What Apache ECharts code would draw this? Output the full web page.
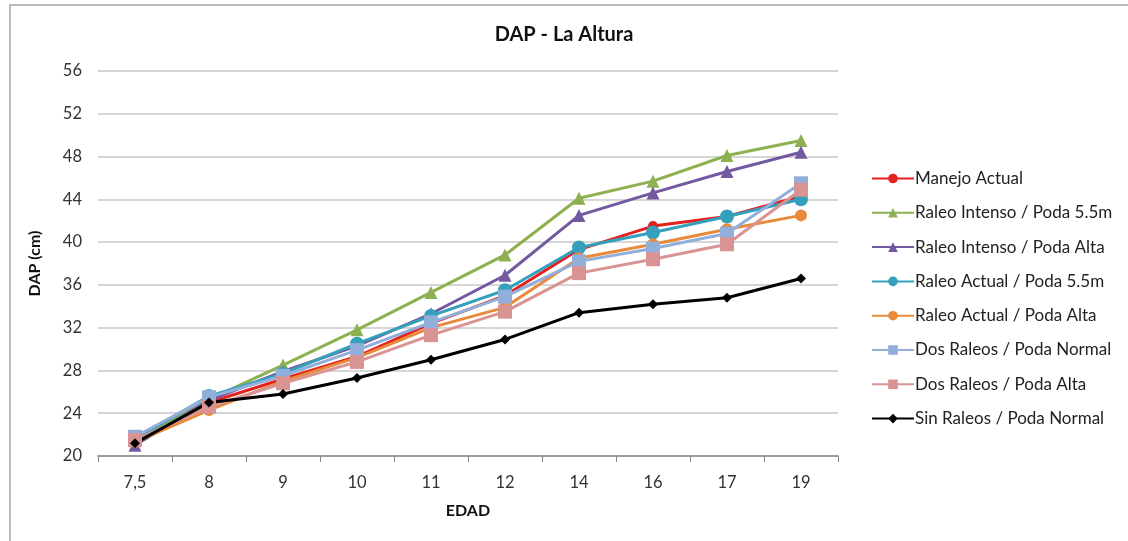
<!DOCTYPE html>
<html><head><meta charset="utf-8">
<script src="https://cdn.jsdelivr.net/npm/echarts@6/dist/echarts.min.js"></script>
<style>html,body{margin:0;padding:0;background:#fff}#c{width:1128px;height:541px}</style>
</head><body><div id="c"></div>
<script>
const categories = ['7,5','8','9','10','11','12','14','16','17','19'];
const manejoActual = [21.2,25.0,27.2,29.3,32.4,35.0,39.3,41.5,42.4,44.3];
const raleoIntenso55 = [21.5,25.3,28.5,31.8,35.3,38.8,44.1,45.7,48.1,49.5];
const raleoIntensoAlta = [21.0,25.2,27.9,30.3,33.3,36.9,42.5,44.6,46.6,48.4];
const raleoActual55 = [21.6,25.6,27.7,30.5,33.1,35.5,39.5,40.9,42.4,44.0];
const raleoActualAlta = [21.3,24.3,27.0,29.2,32.0,33.9,38.5,39.8,41.2,42.5];
const dosRaleosNormal = [21.8,25.5,27.5,29.9,32.5,34.9,38.2,39.4,40.8,45.5];
const dosRaleosAlta = [21.5,24.6,26.8,28.8,31.3,33.5,37.1,38.4,39.8,44.9];
const sinRaleosNormal = [21.2,25.0,25.8,27.3,29.0,30.9,33.4,34.2,34.8,36.6];
const yTicks = {min:20, max:56, interval:4};

const FONT = 'Lato, "Open Sans", sans-serif';
function s(name, data, color, symbol, size){
  return {name, type:'line', data, symbol, symbolSize:size,
    itemStyle:{color}, lineStyle:{color, width:3}, emphasis:{disabled:true}};
}
const series = [
  s('Manejo Actual', manejoActual, '#E3211F', 'circle', 10),
  s('Raleo Intenso / Poda 5.5m', raleoIntenso55, '#8DB050', 'triangle', 13),
  s('Raleo Intenso / Poda Alta', raleoIntensoAlta, '#7359A0', 'triangle', 13),
  s('Raleo Actual / Poda 5.5m', raleoActual55, '#35A0BC', 'circle', 14),
  s('Raleo Actual / Poda Alta', raleoActualAlta, '#E88A3A', 'circle', 12),
  s('Dos Raleos / Poda Normal', dosRaleosNormal, '#92AEDB', 'rect', 14),
  s('Dos Raleos / Poda Alta', dosRaleosAlta, '#DA9393', 'rect', 14),
  s('Sin Raleos / Poda Normal', sinRaleosNormal, '#000000', 'diamond', 10)
];
const chart = echarts.init(document.getElementById('c'));
chart.setOption({
  animation:false,
  backgroundColor:'#fff',
  graphic:[{type:'rect', shape:{x:10,y:5,width:1130,height:545}, style:{fill:'none', stroke:'#A6A6A6', lineWidth:1.5}, silent:true}],
  title:{text:'DAP - La Altura', left:'center', top:20, textStyle:{fontFamily:FONT, fontSize:20, fontWeight:'bold', color:'#111'}},
  legend:{orient:'vertical', left:866, top:165, itemWidth:42, itemHeight:12, itemGap:17.3,
    textStyle:{fontFamily:FONT, fontSize:17, color:'#222', padding:[0,0,0,-4]},
    data:series.map(x=>x.name)},
  grid:{left:98, right:290, top:71, bottom:85},
  xAxis:{type:'category', data:categories, boundaryGap:true, name:'EDAD', nameLocation:'middle', nameGap:47,
    nameTextStyle:{fontFamily:FONT, fontSize:16, fontWeight:'bold', color:'#111'},
    axisLine:{lineStyle:{color:'#868686', width:1.5}},
    axisTick:{show:true, alignWithLabel:false, length:6, lineStyle:{color:'#868686'}},
    axisLabel:{fontFamily:FONT, fontSize:16.5, color:'#333', margin:18}},
  yAxis:{type:'value', min:yTicks.min, max:yTicks.max, interval:yTicks.interval, name:'DAP (cm)', nameLocation:'middle', nameGap:55,
    nameTextStyle:{fontFamily:FONT, fontSize:16, fontWeight:'bold', color:'#111'},
    axisLine:{show:false}, axisTick:{show:false},
    axisLabel:{fontFamily:FONT, fontSize:16.5, color:'#333', margin:16},
    splitLine:{lineStyle:{color:'#C8C8C8', width:1.5}}},
  series
});
</script></body></html>
